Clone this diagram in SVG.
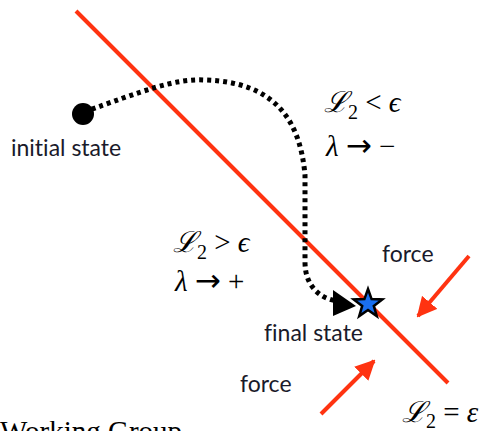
<svg xmlns="http://www.w3.org/2000/svg" width="487" height="431" viewBox="0 0 487 431">
<defs>
<marker id="ah" viewBox="0 0 10 10" refX="9" refY="5" markerWidth="5" markerHeight="5" orient="auto" markerUnits="strokeWidth">
<path d="M0,0 L10,5 L0,10 z" fill="#ff3311"/>
</marker>
</defs>
<style>
.lbl{font-family:Lato,"Open Sans",sans-serif;font-size:23px;fill:#1a1a2a;font-variant-ligatures:none}
.math{font-family:"Liberation Serif","DejaVu Serif",serif;font-size:29px;fill:#000}
.it{font-style:italic}
.sub{font-size:20px}
.arr{font-family:"DejaVu Sans",sans-serif;font-size:31px}
.red{stroke:#ff3311;stroke-width:4;fill:none}
</style>
<rect width="487" height="431" fill="#fff"/>
<g id="boundary">
<line class="red" x1="76" y1="11" x2="448" y2="383"/>
</g>
<g id="connectors">
<path d="M84,112 C140,92 175,78 205,80 C275,82 300,120 305,175 L305,262 C305,290 325,300 338,301" fill="none" stroke="#000" stroke-width="5" stroke-dasharray="4,4"/>
<path d="M333,290 L356,306 L333,316 z" fill="#000"/>
<line class="red" x1="469" y1="256" x2="418" y2="316" marker-end="url(#ah)"/>
<line class="red" x1="321" y1="414" x2="374" y2="361" marker-end="url(#ah)"/>
</g>
<g id="initial">
<circle cx="83" cy="114" r="11" fill="#000"/>
<text class="lbl" x="11" y="156">initial state</text>
</g>
<g id="final">
<path transform="translate(368,304)" d="M0,-15 L3.6,-4.9 L14.3,-4.6 L5.8,1.9 L8.8,12.1 L0,6 L-8.8,12.1 L-5.8,1.9 L-14.3,-4.6 L-3.6,-4.9 z" fill="#1a6ff0" stroke="#000" stroke-width="2.5"/>
<text class="lbl" x="264" y="341">final state</text>
</g>
<g id="labels">
<text class="lbl" x="382" y="262">force</text>
<text class="lbl" x="240" y="392">force</text>
<text class="math" x="324" y="112"><tspan class="it">ℒ</tspan><tspan class="sub" dy="7">2</tspan><tspan dy="-7"> &lt; </tspan><tspan class="it">ϵ</tspan></text>
<text class="math" x="326" y="156"><tspan class="it">λ</tspan> <tspan class="arr">→</tspan> −</text>
<text class="math" x="173" y="252"><tspan class="it">ℒ</tspan><tspan class="sub" dy="7">2</tspan><tspan dy="-7"> &gt; </tspan><tspan class="it">ϵ</tspan></text>
<text class="math" x="175" y="291"><tspan class="it">λ</tspan> <tspan class="arr">→</tspan> +</text>
<text class="math" x="402" y="422"><tspan class="it">ℒ</tspan><tspan class="sub" dy="6">2</tspan><tspan dy="-6"> = </tspan><tspan class="it">ε</tspan></text>
<text class="math" x="0" y="441" font-size="29">Working Group</text>
</g>
</svg>
